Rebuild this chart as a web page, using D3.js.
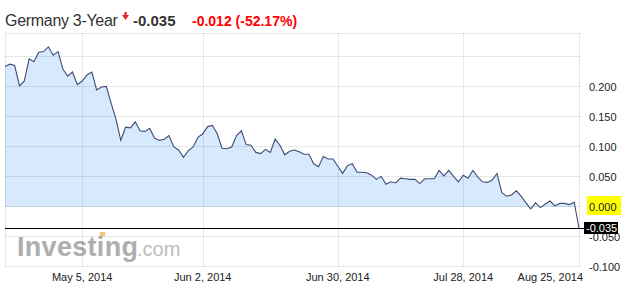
<!DOCTYPE html>
<html>
<head>
<meta charset="utf-8">
<script src="https://cdn.jsdelivr.net/npm/d3@7"></script>
<style>
  body { margin: 0; background: #fff; }
  text { font-family: Arial, "Liberation Sans", sans-serif; }
</style>
</head>
<body>
<svg id="chart" width="621" height="287"></svg>
<script>
// Germany 3-Year yield, daily closes
var values = [
  0.234, 0.238, 0.236, 0.202, 0.210, 0.247, 0.242, 0.258, 0.259, 0.267,
  0.253, 0.259, 0.230, 0.218, 0.225, 0.204, 0.210, 0.220, 0.225, 0.195,
  0.200, 0.201, 0.173, 0.147, 0.111, 0.133, 0.132, 0.142, 0.127, 0.126,
  0.131, 0.115, 0.111, 0.113, 0.119, 0.100, 0.095, 0.083, 0.094, 0.100,
  0.116, 0.122, 0.134, 0.136, 0.122, 0.098, 0.097, 0.100, 0.119, 0.127,
  0.104, 0.103, 0.091, 0.089, 0.096, 0.091, 0.113, 0.103, 0.087, 0.093,
  0.095, 0.092, 0.088, 0.088, 0.072, 0.067, 0.084, 0.080, 0.080, 0.068,
  0.056, 0.069, 0.072, 0.058, 0.058, 0.057, 0.053, 0.046, 0.051, 0.038,
  0.042, 0.040, 0.048, 0.047, 0.046, 0.046, 0.039, 0.047, 0.047, 0.047,
  0.061, 0.052, 0.061, 0.051, 0.042, 0.053, 0.048, 0.061, 0.050, 0.042,
  0.041, 0.045, 0.056, 0.024, 0.018, 0.020, 0.027, 0.018, 0.007, -0.003,
  0.007, -0.001, 0.005, 0.010, 0.002, 0.006, 0.006, 0.004, 0.008, -0.035
];

var tickLabels = ["May 5, 2014", "Jun 2, 2014", "Jun 30, 2014", "Jul 28, 2014", "Aug 25, 2014"];
var tickIndex = [16, 41, 69, 95, 119];
var yTicks = [0.2, 0.15, 0.1, 0.05, 0, -0.05, -0.1];
var yGrid = [0.25, 0.2, 0.15, 0.1, 0.05, 0, -0.05, -0.1];

var lastValue = -0.035;
var change = "-0.012 (-52.17%)";

var fmt = function(v) { return d3.format(".3f")(v).replace("\u2212", "-"); };

var svg = d3.select("#chart");
var pLeft = 5, pRight = 579, pTop = 33, pBottom = 267;

var x = d3.scaleLinear().domain([0, values.length - 1]).range([pLeft, pRight]);
var y = d3.scaleLinear().domain([-0.1, 0.29]).range([pBottom, pTop]);

// header
var head = svg.append("g");
head.append("text")
  .attr("x", 5).attr("y", 26)
  .style("font-size", "16px").style("fill", "#333")
  .style("letter-spacing", "-0.3px")
  .text("Germany 3-Year");
head.append("path")
  .attr("d", "M122,15 L129,15 L125.5,20 Z M124.3,12 L126.7,12 L126.7,15 L124.3,15 Z")
  .style("fill", "#e8262b");
head.append("text")
  .attr("x", 133).attr("y", 26)
  .style("font-size", "15px").style("font-weight", "bold").style("fill", "#333")
  .text(fmt(lastValue));
head.append("text")
  .attr("x", 192).attr("y", 26)
  .style("font-size", "14px").style("font-weight", "bold").style("fill", "#f00")
  .text(change);

// area (only above zero)
svg.append("clipPath").attr("id", "above")
  .append("rect")
  .attr("x", pLeft).attr("y", pTop)
  .attr("width", pRight - pLeft).attr("height", y(0) - pTop);

var area = d3.area()
  .x(function(d, i) { return x(i); })
  .y0(y(0))
  .y1(function(d) { return y(d); });

svg.append("path")
  .datum(values)
  .attr("clip-path", "url(#above)")
  .attr("d", area)
  .style("fill", "#d7e9fd");

// watermark
var wm = svg.append("g");
wm.append("text")
  .attr("x", 17).attr("y", 256)
  .style("font-size", "27px").style("font-weight", "bold")
  .style("fill", "#aeaeae").style("letter-spacing", "0.3px")
  .text("Investing");
wm.append("text")
  .attr("x", 137).attr("y", 256)
  .style("font-size", "20px").style("fill", "#bdbdbd")
  .text(".com");
wm.append("rect")
  .attr("x", 100).attr("y", 232).attr("width", 5).attr("height", 4)
  .style("fill", "#f5c27a");

// grid
var grid = svg.append("g")
  .style("stroke", "#000").style("stroke-opacity", 0.09)
  .style("shape-rendering", "crispEdges");

grid.selectAll(".hg")
  .data(yGrid)
  .enter().append("line")
  .attr("x1", pLeft).attr("x2", pRight + 2)
  .attr("y1", function(d) { return Math.round(y(d)) - 0.5; })
  .attr("y2", function(d) { return Math.round(y(d)) - 0.5; });

grid.append("line")
  .attr("x1", pLeft).attr("x2", pRight + 2)
  .attr("y1", pTop).attr("y2", pTop);

grid.selectAll(".vg")
  .data([0].concat(tickIndex))
  .enter().append("line")
  .attr("x1", function(d) { return Math.round(x(d)) + 0.5; })
  .attr("x2", function(d) { return Math.round(x(d)) + 0.5; })
  .attr("y1", pTop).attr("y2", pBottom);

// line
var line = d3.line()
  .x(function(d, i) { return x(i); })
  .y(function(d) { return y(d); });

svg.append("path")
  .datum(values)
  .attr("d", line)
  .style("fill", "none")
  .style("stroke", "#3f4b73")
  .style("stroke-width", 1.1);

// x labels
svg.selectAll(".xl")
  .data(tickLabels)
  .enter().append("text")
  .attr("x", function(d, i) { return i === tickLabels.length - 1 ? x(tickIndex[i]) + 4 : x(tickIndex[i]); })
  .attr("y", 281)
  .attr("text-anchor", function(d, i) { return i === tickLabels.length - 1 ? "end" : "middle"; })
  .style("font-size", "11px").style("fill", "#222")
  .text(function(d) { return d; });

// zero highlight
svg.append("rect")
  .attr("x", 587).attr("y", y(0) - 11)
  .attr("width", 34).attr("height", 19)
  .style("fill", "#ffff00");

// y labels
svg.selectAll(".yl")
  .data(yTicks)
  .enter().append("text")
  .attr("x", 589)
  .attr("y", function(d) { return y(d) + 4; })
  .style("font-size", "11px").style("fill", "#222")
  .text(function(d) { return fmt(d); });

// current value line and box
svg.append("line")
  .attr("x1", pLeft).attr("x2", 586)
  .attr("y1", Math.round(y(lastValue)) + 0.5)
  .attr("y2", Math.round(y(lastValue)) + 0.5)
  .style("stroke", "#000").style("stroke-width", 1);

svg.append("rect")
  .attr("x", 584).attr("y", y(lastValue) - 6)
  .attr("width", 34).attr("height", 12)
  .style("fill", "#000");

svg.append("text")
  .attr("x", 586).attr("y", y(lastValue) + 4)
  .style("font-size", "11px").style("fill", "#fff")
  .text(fmt(lastValue));
</script>
</body>
</html>
